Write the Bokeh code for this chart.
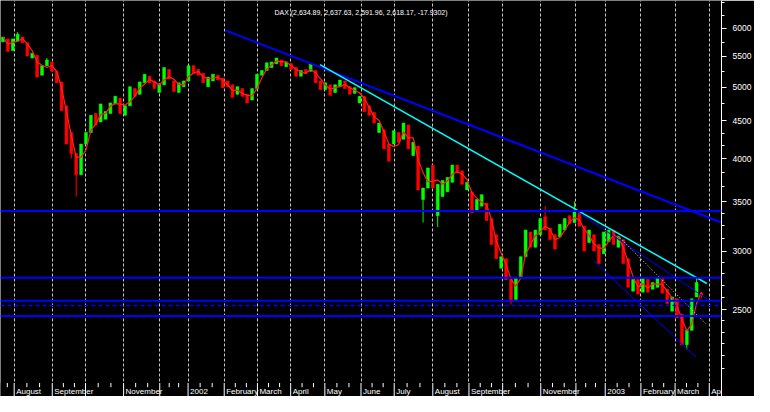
import numpy as np
import pandas as pd
from bokeh.plotting import figure
from bokeh.models import (Range1d, FixedTicker, Span, Label,
                          ColumnDataSource, BasicTickFormatter)
from bokeh.core.properties import value
from bokeh.embed import file_html
from bokeh.resources import INLINE

# ---- data: one candle per ~3 trading days ----
opens = [5754, 5806, 5602, 5771, 5841, 5738, 5471, 5520, 5187, 5343,
         5405, 5249, 5080, 4716, 4340, 4065, 3807, 4187, 4340, 4605,
         4484, 4524, 4605, 4744, 4829, 4578, 4716, 4975, 4887, 5065,
         5171, 5095, 4916, 5035, 5279, 5095, 4916, 5005, 5095, 5343,
         5279, 5217, 5005, 5095, 5187, 5140, 5095, 5035, 4887, 4975,
         4887, 4801, 4975, 5187, 5264, 5311, 5375, 5438, 5327, 5375,
         5311, 5171, 5279, 5249, 5264, 5095, 4960, 5035, 4916, 5005,
         5095, 5005, 4902, 4758, 4858, 4716, 4619, 4340, 4378, 4187,
         4187, 4340, 4250, 4444, 4041, 4162, 3525, 3652, 3923, 3351,
         3556, 3609, 3718, 3923, 3853, 3631, 3609, 3401, 3452, 3483,
         3321, 3158, 2846, 2932, 2747, 2580, 2763, 2950, 3186, 3038,
         3158, 3341, 3224, 3158, 3139, 3205, 3351, 3281, 3381, 3243,
         3083, 3158, 3065, 2976, 3092, 3205, 3038, 3111, 2932, 2650,
         2747, 2642, 2747, 2666, 2682, 2763, 2666, 2490, 2588, 2468,
         2244, 2346, 2603, 2634.89]
closes = [5841, 5585, 5806, 5893, 5738, 5504, 5553, 5156, 5343, 5438,
          5249, 5065, 4646, 4187, 4065, 3807, 4187, 4340, 4578, 4444,
          4744, 4632, 4758, 4858, 4605, 4716, 5005, 4858, 5080, 5202,
          5065, 4975, 5050, 5311, 5125, 4931, 5065, 5095, 5343, 5217,
          5187, 5065, 5156, 5202, 5110, 4990, 5005, 4843, 5005, 4858,
          4758, 4975, 5202, 5264, 5391, 5405, 5471, 5343, 5405, 5279,
          5171, 5264, 5217, 5375, 5065, 4960, 5065, 4872, 5035, 5110,
          4975, 4887, 4990, 4858, 4632, 4578, 4470, 4470, 4126, 3970,
          4365, 4212, 4470, 4126, 4212, 3631, 3652, 3888, 3652, 3696,
          3740, 3774, 3923, 3830, 3696, 3718, 3381, 3525, 3577, 3301,
          3065, 2932, 2950, 2747, 2565, 2763, 2950, 3205, 3038, 3205,
          3321, 3205, 3111, 3020, 3262, 3321, 3272, 3401, 3243, 3002,
          3205, 3002, 2889, 3186, 3205, 3065, 3139, 2889, 2682, 2747,
          2626, 2763, 2642, 2722, 2763, 2634, 2550, 2603, 2439, 2244,
          2346, 2588, 2722, 2618.17]
high_slots = [3, 9, 111, 117, 142, 143]
high_vals = [5928, 5471, 3452, 3504, 2763, 2637.63]
low_slots = [14, 15, 86, 89, 104, 140, 143]
low_vals = [4005, 3556, 3281, 3234, 2542, 2211, 2591.96]
ma_window = 3

# month boundaries (in candle units) and their labels
month_pos = [2.3, 10.1, 16.9, 24.7, 32.1, 37.9, 45.3, 52.1, 58.9, 65.9, 73.3,
             80.1, 88.0, 95.4, 102.3, 110.1, 117.3, 123.3, 130.6, 137.6, 144.6]
month_labels = ["August", "September", "", "November", "", "2002", "February",
                "March", "April", "May", "June", "July", "August", "September",
                "", "November", "", "2003", "February", "March", "Apr"]

y_major = [2500, 3000, 3500, 4000, 4500, 5000, 5500, 6000]
y_minor = [2083, 2167, 2250, 2333, 2417, 2600, 2700, 2800, 2900, 3125, 3250,
           3375, 3667, 3833, 4167, 4333, 4750, 5250, 5750, 6250, 6500]

# trend lines (candle index, price)
long_blue_x, long_blue_y = [45.5, 147.1], [5963, 3281]
cyan_x, cyan_y = [64.9, 144.1], [5359, 2714]
mid_blue_x, mid_blue_y = [117.1, 144.1], [3411, 2588]
white_x, white_y = [125.9, 143.9], [3149, 2395]
low_blue_x, low_blue_y = [121.1, 141.9], [2906, 2158]
h_levels = [3401, 2763, 2573, 2453]
dash_level = 2535

title_text = "DAX (2,634.89, 2,637.63, 2,591.96, 2,618.17, -17.9302)"

# date band at the bottom of the chart (price levels of the band layout)
band_top = 1992
minor_tick_bottom = 1966
label_base = 1940
y_start, y_end = 1910, 6543

# ---- figure ----
x_start, x_end = -0.5, 147.1
p = figure(width=754, height=396, output_backend="svg", toolbar_location=None,
           y_axis_type="log", y_axis_location="right",
           x_range=Range1d(x_start, x_end), y_range=Range1d(y_start, y_end),
           min_border_left=0, min_border_top=0, min_border_right=31,
           min_border_bottom=0)
p.background_fill_color = "black"
p.border_fill_color = "black"
p.outline_line_color = None
p.xaxis.visible = False

# vertical dashed month grid
p.xgrid.ticker = FixedTicker(ticks=month_pos)
p.xgrid.grid_line_color = "#C8C8C8"
p.xgrid.grid_line_dash = "3 2"
p.xgrid.grid_line_width = 1
p.ygrid.grid_line_color = None

# y axis
ya = p.yaxis[0]
ya.ticker = FixedTicker(ticks=y_major, minor_ticks=y_minor)
ya.formatter = BasicTickFormatter(use_scientific=False)
ya.axis_line_color = "white"
ya.major_tick_line_color = "white"
ya.minor_tick_line_color = "white"
ya.major_tick_out = 5
ya.major_tick_in = 0
ya.minor_tick_out = 3
ya.minor_tick_in = 0
ya.major_label_text_color = "white"
ya.major_label_text_font = "Liberation Sans"
ya.major_label_text_font_size = "8.5px"
ya.major_label_standoff = 6

# candles
n = len(closes)
xs = np.arange(n)
o = np.array(opens, dtype=float)
c = np.array(closes, dtype=float)
top = np.maximum(o, c)
bot = np.minimum(o, c)
hi = top.copy()
lo = bot.copy()
hi[high_slots] = high_vals
lo[low_slots] = low_vals
col = np.where(c >= o, "#00FF00", "#FF0000")
src = ColumnDataSource(dict(x=xs, top=top, bot=bot, hi=hi, lo=lo, col=col))
p.segment(x0="x", y0="hi", x1="x", y1="lo", color="col", line_width=1, source=src)
p.vbar(x="x", width=0.6, top="top", bottom="bot", fill_color="col",
       line_color="col", line_width=0.5, source=src)

# moving average
ma = pd.Series(c).rolling(ma_window, min_periods=1).mean().values
p.line(xs, ma, line_color="#FF2020", line_width=1.2)

# trend lines
p.line(long_blue_x, long_blue_y, line_color="#0000FF", line_width=2)
p.line(cyan_x, cyan_y, line_color="#00FFFF", line_width=1.5)
p.line(mid_blue_x, mid_blue_y, line_color="#0000FF", line_width=1)
p.line(low_blue_x, low_blue_y, line_color="#0000FF", line_width=1)
p.line(white_x, white_y, line_color="#E0E0E0", line_width=1, line_dash="1 2")

for lev in h_levels:
    p.add_layout(Span(location=lev, dimension="width", line_color="#0000FF",
                      line_width=2))
p.add_layout(Span(location=dash_level, dimension="width", line_color="#0000FF",
                  line_width=1.5, line_dash="4 3"))

# date band: black strip, month separators, minor ticks, month names
p.quad(left=x_start, right=x_end, bottom=y_start, top=band_top,
       fill_color="black", line_color=None)
p.segment(x0=month_pos, y0=[y_start] * len(month_pos), x1=month_pos,
          y1=[band_top] * len(month_pos), line_color="white", line_width=1)
minor_x = []
for a, b in zip(month_pos[:-1], month_pos[1:]):
    minor_x += [a + (b - a) / 3, a + 2 * (b - a) / 3]
minor_x = [0.9] + minor_x
p.segment(x0=minor_x, y0=[minor_tick_bottom] * len(minor_x), x1=minor_x,
          y1=[band_top] * len(minor_x), line_color="white", line_width=1)
lab_x = [m for m, t in zip(month_pos, month_labels) if t]
lab_t = [t for t in month_labels if t]
p.text(x=lab_x, y=[label_base] * len(lab_x), text=lab_t, x_offset=2,
       text_align="left", text_baseline="alphabetic", text_color="white",
       text_font=value("Liberation Sans"), text_font_size=value("8px"))

# title text inside the frame
p.add_layout(Label(x=(x_start + x_end) / 2, y=6312, text=title_text,
                   text_align="center", text_baseline="alphabetic",
                   text_color="white", text_font="Liberation Sans",
                   text_font_size="7px"))

open("out.html", "w").write(file_html(p, INLINE))
